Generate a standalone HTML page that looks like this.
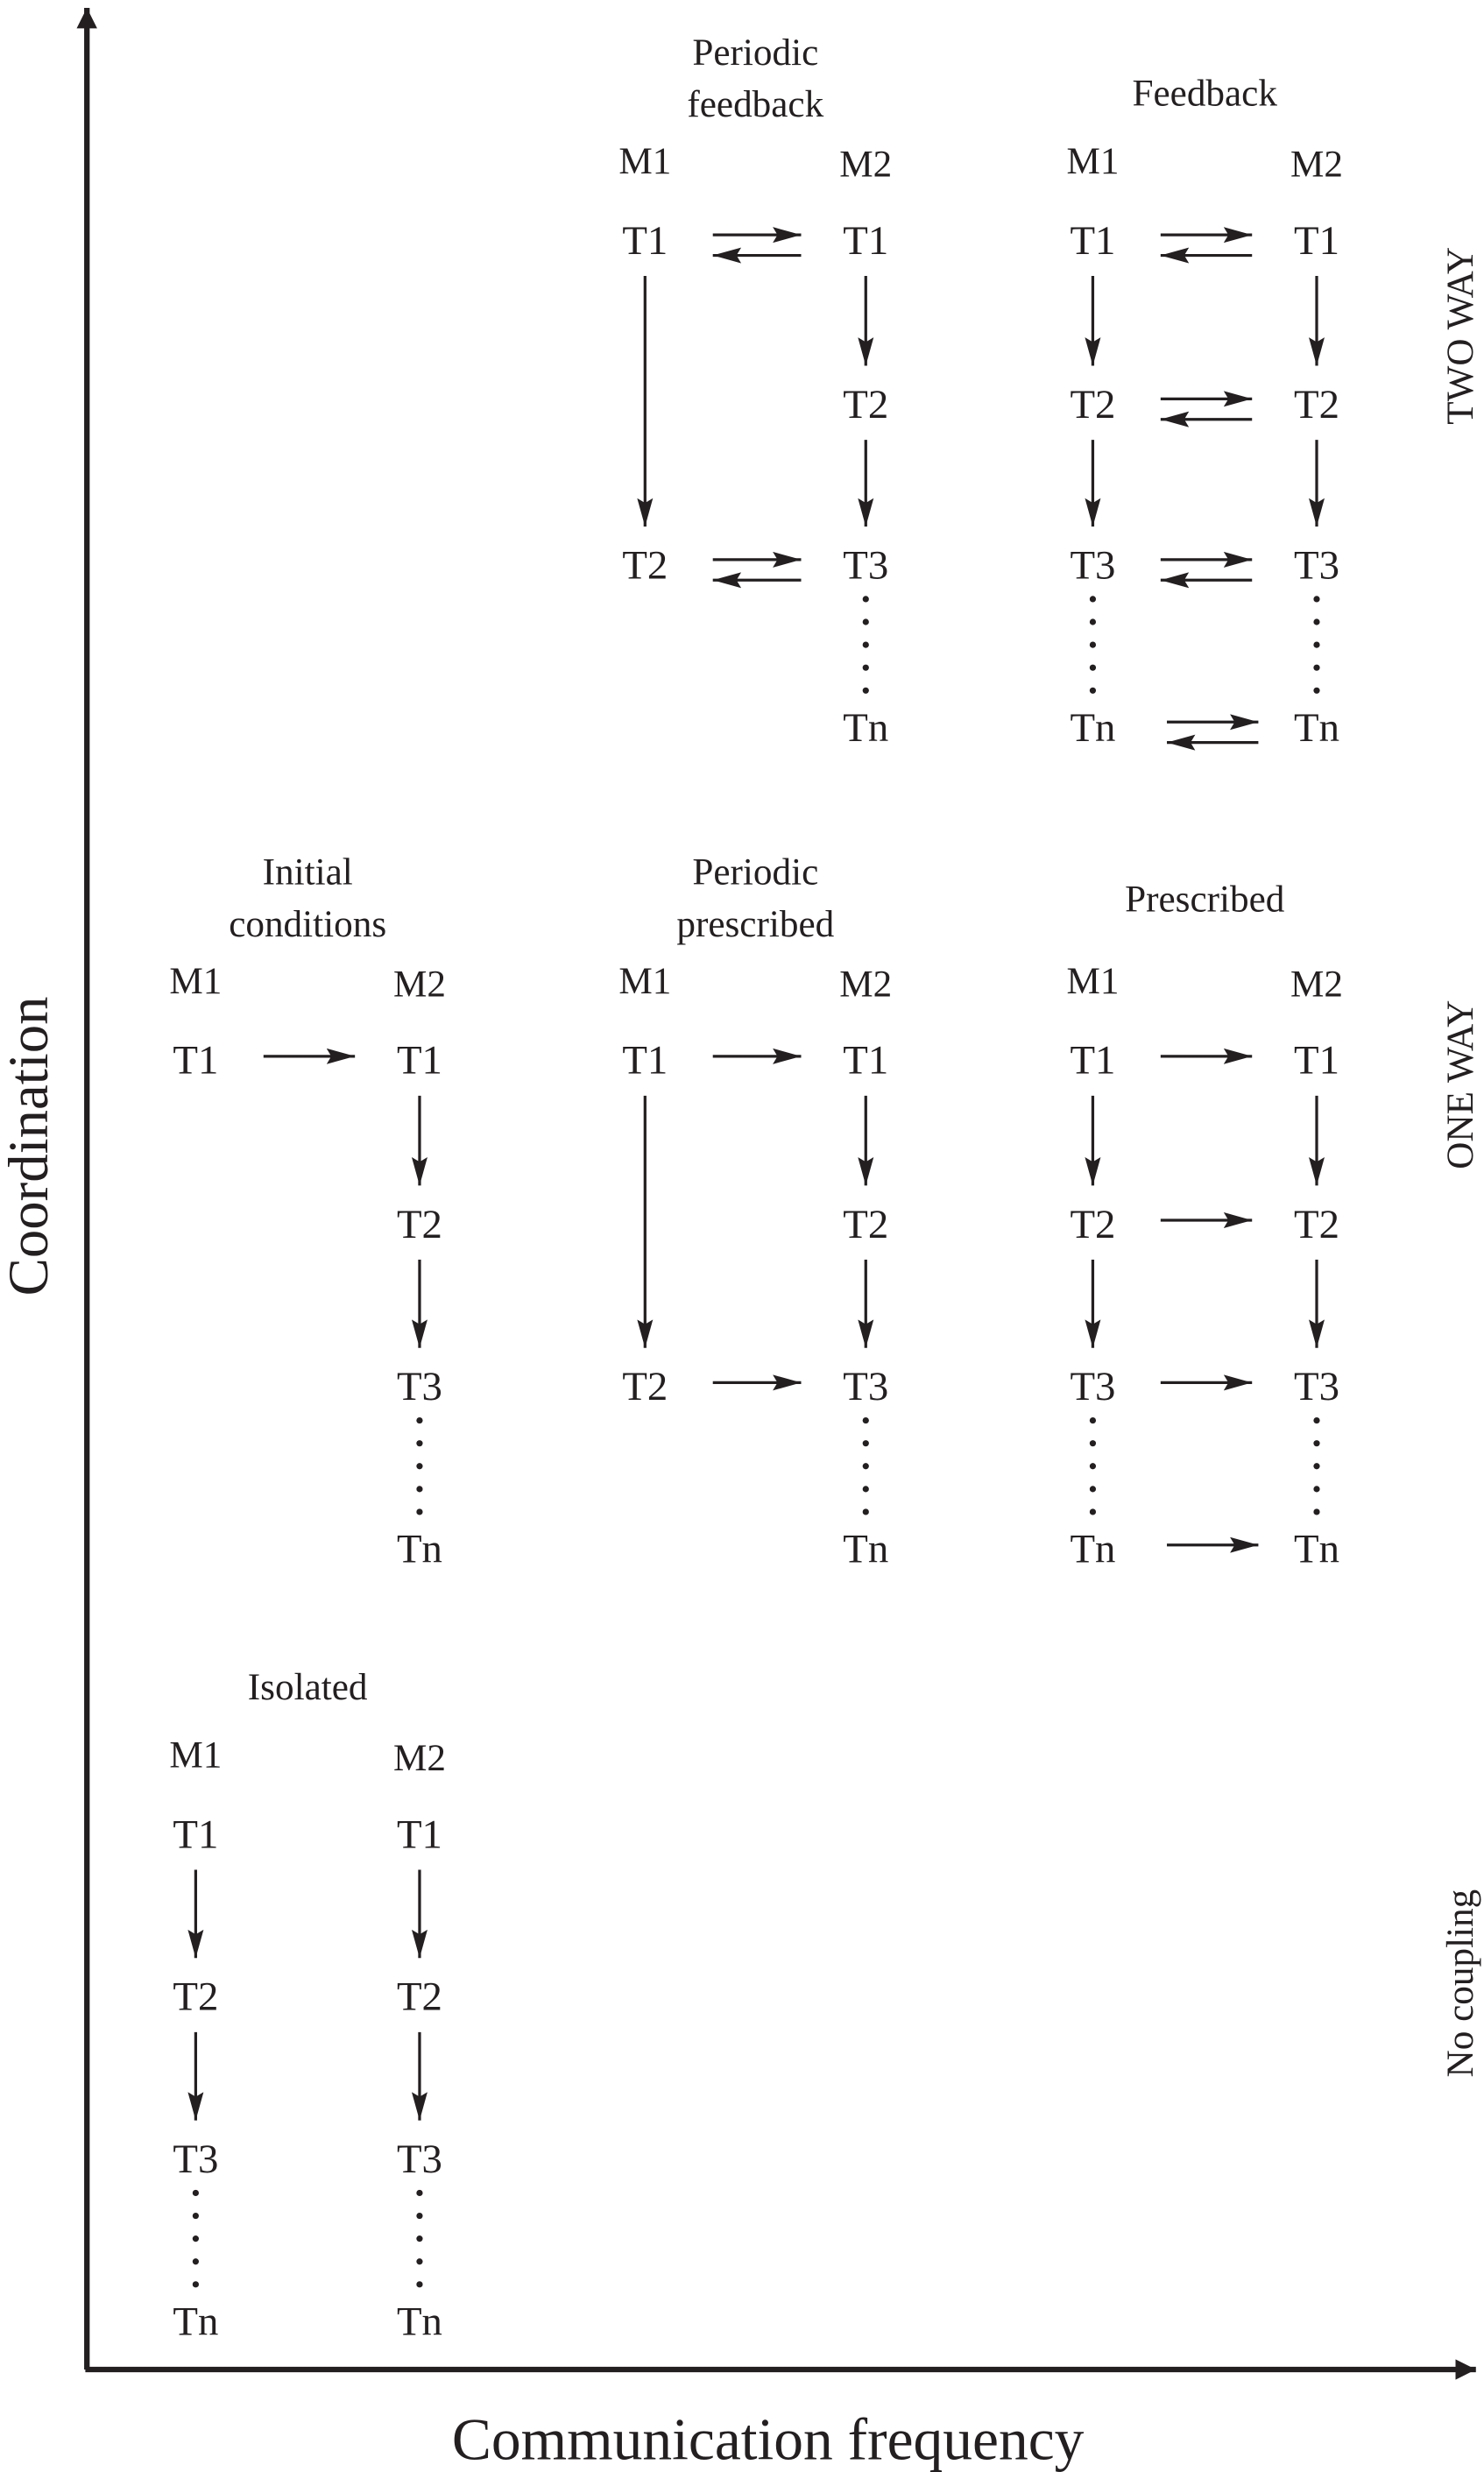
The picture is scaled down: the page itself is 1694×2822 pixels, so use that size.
<!DOCTYPE html>
<html><head><meta charset="utf-8"><style>
html,body{margin:0;padding:0;background:#fff}
svg{display:block}
text{font-family:"Liberation Serif",serif;fill:#231f20}
</style></head><body>
<svg id="fig" width="1694" height="2822" viewBox="0 0 941 1568" xmlns="http://www.w3.org/2000/svg">
<defs>
<marker id="ah" viewBox="0 0 18 10" refX="18" refY="5" markerWidth="18" markerHeight="10" markerUnits="userSpaceOnUse" orient="auto"><path d="M0,0 L18,5 L0,10 L3,5 Z" fill="#231f20"/></marker>
<marker id="big" viewBox="0 0 10 10" refX="10" refY="5" markerWidth="13" markerHeight="13" markerUnits="userSpaceOnUse" orient="auto"><path d="M0,0 L10,5 L0,10 Z" fill="#231f20"/></marker>
</defs>
<g>
<line x1="55" y1="1503" x2="55" y2="5" stroke="#231f20" stroke-width="3.5" marker-end="url(#big)"/>
<line x1="54" y1="1503" x2="936" y2="1503" stroke="#231f20" stroke-width="3.5" marker-end="url(#big)"/>
<text x="0" y="0" font-size="36" text-anchor="middle" transform="translate(30,727) rotate(-90)">Coordination</text>
<text x="487" y="1560" font-size="37.5" text-anchor="middle">Communication frequency</text>
<text font-size="24" text-anchor="middle" transform="translate(934,213) rotate(-90)">TWO WAY</text>
<text font-size="24" text-anchor="middle" transform="translate(934,688) rotate(-90)">ONE WAY</text>
<text font-size="24" text-anchor="middle" transform="translate(934,1258) rotate(-90)">No coupling</text>
</g>
<g id="panels"></g>
</svg>
<script>
const colX = [[124,266],[409,549],[693,835]];
const sectionRows = [[152,256,358,461],[672,776,879,982],[1163,1266,1369,1472]];
const panelNames = ["periodic-feedback","feedback","initial-conditions","periodic-prescribed","prescribed","isolated"];
const panelTitles = [["Periodic","feedback"],["Feedback"],["Initial","conditions"],["Periodic","prescribed"],["Prescribed"],["Isolated"]];
const panelTitleOffset = [0,0,0,0,-9,0];
const panelCol = [1,2,0,1,2,0];
const panelSection = [0,0,1,1,1,2];
const panelM1Type = ["periodic","full","single","periodic","full","full"];
const panelLinkRows = [[0,2],[0,1,2,3],[0],[0,2],[0,1,2,3],[]];
const panelTwoWay = [true,true,false,false,false,false];

const NS="http://www.w3.org/2000/svg";
const root=document.getElementById('panels');
function mk(tag,attrs,parent){const e=document.createElementNS(NS,tag);for(const k in attrs)e.setAttribute(k,attrs[k]);parent.appendChild(e);return e;}
function txt(parent,x,y,s,size,name){const t=mk('text',{x:x,y:y,'font-size':size,'text-anchor':'middle'},parent);

t.textContent=s;return t;}
function arrow(parent,x1,y1,x2,y2,name){const l=mk('line',{x1:x1,y1:y1,x2:x2,y2:y2,stroke:'#231f20','stroke-width':1.8,'marker-end':'url(#ah)'},parent);
}
function dots(parent,x,y0,name){const g=mk('g',{},parent);

for(let i=0;i<5;i++)mk('circle',{cx:x,cy:y0+i*14.5,r:2,fill:'#231f20'},g);}
function column(g,x,rows,type,prefix){
  if(type==='single'){txt(g,x,rows[0]+9,'T1',26,prefix+'-t1');return;}
  if(type==='periodic'){txt(g,x,rows[0]+9,'T1',26,prefix+'-t1');txt(g,x,rows[2]+9,'T2',26,prefix+'-t2');
    arrow(g,x,rows[0]+23,x,rows[2]-24,prefix+'-arrow-long');return;}
  const labs=['T1','T2','T3','Tn'];
  labs.forEach((l,i)=>txt(g,x,rows[i]+9,l,26,prefix+'-'+l.toLowerCase()));
  arrow(g,x,rows[0]+23,x,rows[1]-24,prefix+'-arrow-1-2');
  arrow(g,x,rows[1]+23,x,rows[2]-24,prefix+'-arrow-2-3');
  dots(g,x,rows[2]+22,prefix+'-dots');
}
panelNames.forEach((name,p)=>{
  const g=mk('g',{},root);
  
  
  const [x1,x2]=colX[panelCol[p]];const rows=sectionRows[panelSection[p]];
  const titles=panelTitles[p];const cx=(x1+x2)/2;
  const mY=rows[0]-50;
  if(titles.length===2){txt(g,cx,mY-61,titles[0],24,name+'-title-1');txt(g,cx,mY-28,titles[1],24,name+'-title-2');}
  else txt(g,cx,mY-35+panelTitleOffset[p],titles[0],24,name+'-title');
  txt(g,x1,mY+8,'M1',24,name+'-m1');txt(g,x2,mY+10,'M2',24,name+'-m2');
  column(g,x1,rows,panelM1Type[p],name+'-m1');
  column(g,x2,rows,'full',name+'-m2');
  panelLinkRows[p].forEach(r=>{
    const y=rows[r];const off=(r===3)?4:0;
    if(panelTwoWay[p]){arrow(g,x1+43+off,y-3,x2-41+off,y-3,name+'-link-right-'+r);arrow(g,x2-41+off,y+10,x1+43+off,y+10,name+'-link-left-'+r);}
    else arrow(g,x1+43+off,y-2,x2-41+off,y-2,name+'-link-'+r);
  });
});
</script>
</body></html>
